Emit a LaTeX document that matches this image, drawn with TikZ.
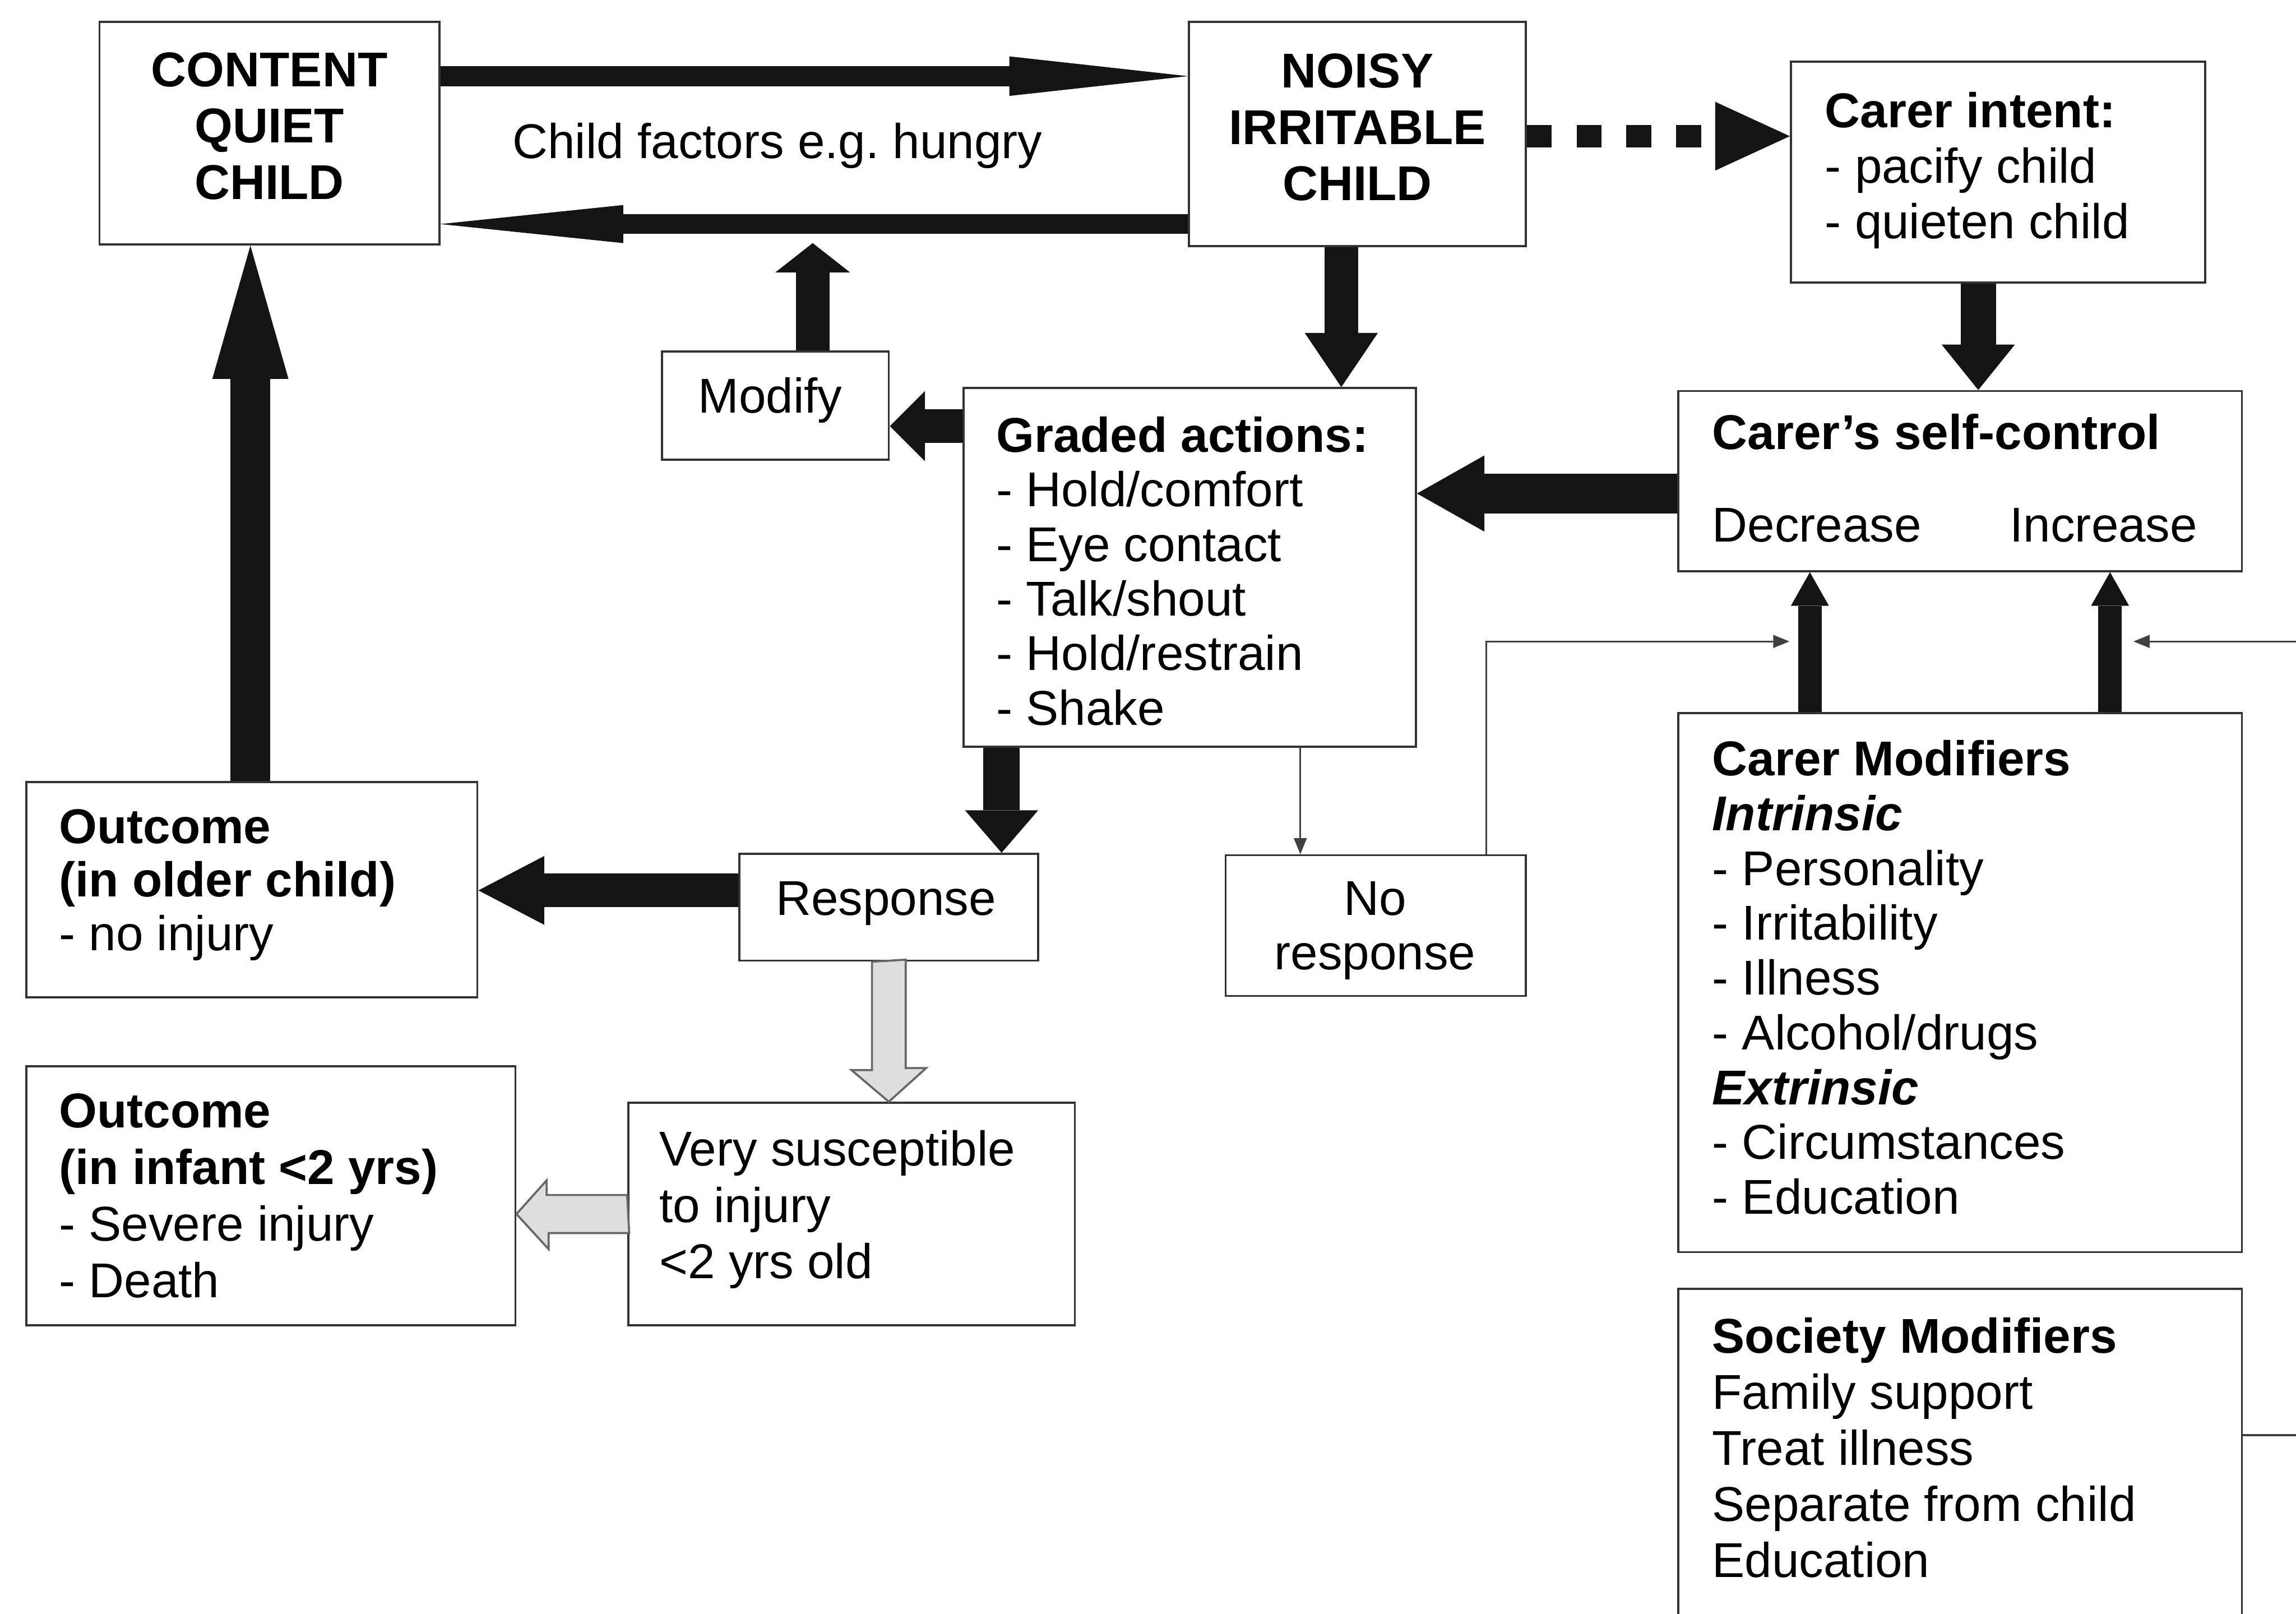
\documentclass[tikz,border=0pt]{standalone}
\usepackage{fontspec}
\setmainfont{Liberation Sans}
\usetikzlibrary{arrows.meta,fit}
\newcommand\fsz[1][21.4pt]{\fontsize{19pt}{#1}\selectfont}
\frenchspacing
\begin{document}
\begin{tikzpicture}[x=0.02cm,y=-0.02cm,
  box/.style={draw=black!80, line width=0.8pt, inner sep=0pt, fill=white},
  txt/.style={inner sep=0pt, align=left, font=\fsz, anchor=base west},
  ctxt/.style={inner sep=0pt, align=center, font=\fsz, anchor=base},
  fatarrow/.style n args={3}{line width=#1, draw=black!92, -{Triangle[length=#2,width=#3,line width=0pt]}},
  thinarrow/.style={line width=0.7pt, draw=black!75, -{Triangle[length=0.22cm,width=0.18cm,line width=0pt]}},
  hollow/.style={fill=black!13, draw=black!60, line width=0.8pt, line join=miter},
]
\useasboundingbox (0,0) rectangle (1568,1102);
\fill[white] (0,0) rectangle (1568,1102);

% boxes
\node[box, fit={(68,15) (300,167)}] (content) {};
\node[box, fit={(812,15) (1042,168)}] (noisy) {};
\node[box, fit={(1223,42) (1506,193)}] (intent) {};
\node[box, fit={(452,240) (607,314)}] (modify) {};
\node[box, fit={(658,265) (967,510)}] (graded) {};
\node[box, fit={(1146,267) (1531,390)}] (selfc) {};
\node[box, fit={(1146,487) (1531,855)}] (cmod) {};
\node[box, fit={(1146,880) (1531,1140)}] (society) {};
\node[box, fit={(837,584) (1042,680)}] (noresp) {};
\node[box, fit={(505,583) (709,656)}] (response) {};
\node[box, fit={(18,534) (326,681)}] (older) {};
\node[box, fit={(18,728) (352,905)}] (infant) {};
\node[box, fit={(429,753) (734,905)}] (vsus) {};

% texts (anchor = baseline of the last line)
\node[ctxt, font={\fsz[21.9pt]\bfseries}] (contentT) at (184,136) {CONTENT\\QUIET\\CHILD};
\node[ctxt, font={\fsz[21.9pt]\bfseries}] (noisyT) at (927,137) {NOISY\\IRRITABLE\\CHILD};
\node[ctxt] (cf) at (531,108) {Child factors e.g.\ hungry};
\node[txt, font={\fsz[21.6pt]}] (intentT) at (1246,163) {\textbf{Carer intent:}\\- pacify child\\- quieten child};
\node[ctxt] (modifyT) at (526,282) {Modify};
\node[txt, font={\fsz[21.2pt]}] (gradedT) at (680,495) {\textbf{Graded actions:}\\- Hold/comfort\\- Eye contact\\- Talk/shout\\- Hold/restrain\\- Shake};
\node[txt, font={\fsz\bfseries}] (selfcT) at (1169,307) {Carer's self-control};
\node[txt] (decT) at (1169,370) {Decrease};
\node[txt, anchor=base east] (incT) at (1501,370) {Increase};
\node[txt, font={\fsz[21.3pt]}] (cmodT) at (1169,829) {\textbf{Carer Modifiers}\\\textbf{\textit{Intrinsic}}\\- Personality\\- Irritability\\- Illness\\- Alcohol/drugs\\\textbf{\textit{Extrinsic}}\\- Circumstances\\- Education};
\node[txt, font={\fsz[21.8pt]}] (societyT) at (1169,1077) {\textbf{Society Modifiers}\\Family support\\Treat illness\\Separate from child\\Education};
\node[ctxt, font={\fsz[21.1pt]}] (norespT) at (939,662) {No\\response};
\node[ctxt] (responseT) at (605,625) {Response};
\node[txt, font={\fsz[20.8pt]}] (olderT) at (40,649) {\textbf{Outcome}\\\textbf{(in older child)}\\- no injury};
\node[txt, font={\fsz[22pt]}] (infantT) at (40,886) {\textbf{Outcome}\\\textbf{(in infant <2 yrs)}\\- Severe injury\\- Death};
\node[txt, font={\fsz[21.9pt]}] (vsusT) at (450,873) {Very susceptible\\to injury\\<2 yrs old};

% thick arrows
\draw[fatarrow={0.28cm}{2.44cm}{0.54cm}] (content.east |- 0,52) -- (noisy.west |- 0,52);
\draw[fatarrow={0.27cm}{2.5cm}{0.52cm}] (noisy.west |- 0,153) -- (content.east |- 0,153);
\draw[line width=0.3cm, draw=black!92, dash pattern=on 0.34cm off 0.34cm,
  -{Triangle[length=1.02cm,width=0.94cm,line width=0pt]}] (noisy.east |- 0,93) -- (intent.west |- 0,93);
\draw[fatarrow={0.48cm}{0.62cm}{1.0cm}] (1351,0 |- intent.south) -- (1351,0 |- selfc.north);
\draw[fatarrow={0.54cm}{0.92cm}{1.04cm}] (selfc.west |- 0,337) -- (graded.east |- 0,337);
\draw[fatarrow={0.46cm}{0.74cm}{1.0cm}] (916,0 |- noisy.south) -- (916,0 |- graded.north);
\draw[fatarrow={0.46cm}{0.48cm}{0.96cm}] (graded.west |- 0,291) -- (modify.east |- 0,291);
\coordinate (modtip) at (555,166);
\draw[fatarrow={0.46cm}{0.4cm}{1.02cm}] (modify.north -| modtip) -- (modtip);
\draw[fatarrow={0.54cm}{1.82cm}{1.04cm}] (171,0 |- older.north) -- (171,0 |- content.south);
\draw[fatarrow={0.5cm}{0.58cm}{1.0cm}] (684,0 |- graded.south) -- (684,0 |- response.north);
\draw[fatarrow={0.46cm}{0.9cm}{0.94cm}] (response.west |- 0,608) -- (older.east |- 0,608);
\draw[fatarrow={0.32cm}{0.46cm}{0.52cm}] (1236,0 |- cmod.north) -- (1236,0 |- selfc.south);
\draw[fatarrow={0.32cm}{0.46cm}{0.52cm}] (1441,0 |- cmod.north) -- (1441,0 |- selfc.south);

% thin arrows
\draw[thinarrow] (888,0 |- graded.south) -- (888,0 |- noresp.north);
\coordinate (dectip) at (1222,438);
\draw[thinarrow] (1015,0 |- noresp.north) |- (dectip);
\coordinate (inctip) at (1457,438);
\draw[thinarrow] (society.east |- 0,980) -| (1640,438) -- (inctip);

% hollow arrows
\draw[hollow] (response.south) ++(-11.5,0) -- ++(0,74) -- ++(-14,0) -- (response.south |- vsus.north)
  -- ++(25.5,-23) -- ++(-14,0) -- ++(0,-74) -- cycle;
\draw[hollow] (vsus.west) ++(0,-13) -- ++(-55,0) -- ++(0,-10) -- (infant.east |- vsus.west)
  -- ++(22,24) -- ++(0,-11) -- ++(55,0) -- cycle;
\end{tikzpicture}
\end{document}
